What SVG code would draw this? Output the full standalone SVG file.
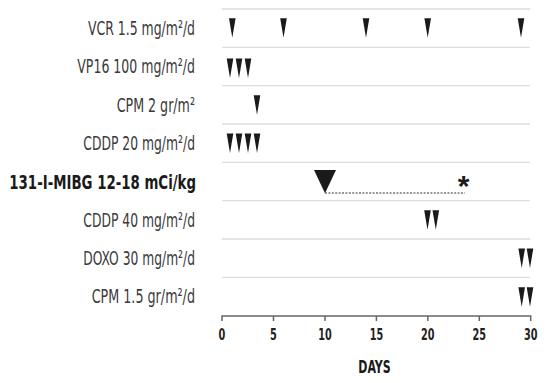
<svg xmlns="http://www.w3.org/2000/svg" width="550" height="383" viewBox="0 0 550 383">
<style>
.lbl{font-family:"Liberation Sans Narrow","DejaVu Sans Condensed","Liberation Sans",sans-serif;font-size:19.5px;fill:#3a3a3a;text-anchor:end}
.bold{font-family:"Liberation Sans Narrow","DejaVu Sans Condensed","Liberation Sans",sans-serif;font-size:19.5px;font-weight:bold;fill:#1a1a1a;text-anchor:end}
.tick{font-family:"Liberation Sans Narrow","DejaVu Sans Condensed","Liberation Sans",sans-serif;font-size:16.5px;font-weight:bold;fill:#222;text-anchor:middle}
.days{font-family:"Liberation Sans Narrow","DejaVu Sans Condensed","Liberation Sans",sans-serif;font-size:18px;font-weight:bold;fill:#1a1a1a;text-anchor:middle}
.ast{font-family:"Liberation Sans","DejaVu Sans",sans-serif;font-size:30px;font-weight:bold;fill:#1a1a1a;text-anchor:middle}
.grid{stroke:#dcdcdc;stroke-width:1.3;fill:none}
.axis{stroke:#666;stroke-width:1.5;fill:none}
.tri{fill:#1a1a1a}
</style>
<defs>
<path id="t" class="tri" d="M-3.3,0 L3.3,0 L0,19.5 Z"/>
</defs>
<rect width="550" height="383" fill="#fff"/>
<g id="grid">
<line class="grid" x1="222" y1="9" x2="530" y2="9"/>
<line class="grid" x1="222" y1="47.3" x2="530" y2="47.3"/>
<line class="grid" x1="222" y1="85.7" x2="530" y2="85.7"/>
<line class="grid" x1="222" y1="124" x2="530" y2="124"/>
<line class="grid" x1="222" y1="162.3" x2="530" y2="162.3"/>
<line class="grid" x1="222" y1="200.7" x2="530" y2="200.7"/>
<line class="grid" x1="222" y1="239" x2="530" y2="239"/>
<line class="grid" x1="222" y1="277.3" x2="530" y2="277.3"/>
</g>
<g id="row-vcr">
<text class="lbl" x="195" y="35" textLength="107" lengthAdjust="spacingAndGlyphs">VCR 1.5 mg/m²/d</text>
<use href="#t" x="232.3" y="18.3"/>
<use href="#t" x="283.5" y="18.3"/>
<use href="#t" x="366" y="18.3"/>
<use href="#t" x="427.7" y="18.3"/>
<use href="#t" x="521" y="18.3"/>
</g>
<g id="row-vp16">
<text class="lbl" x="195" y="73.3" textLength="117.7" lengthAdjust="spacingAndGlyphs">VP16 100 mg/m²/d</text>
<use href="#t" x="230" y="58.5"/>
<use href="#t" x="239" y="58.5"/>
<use href="#t" x="248" y="58.5"/>
</g>
<g id="row-cpm2">
<text class="lbl" x="195" y="111.7" textLength="78.3" lengthAdjust="spacingAndGlyphs">CPM 2 gr/m²</text>
<use href="#t" x="257" y="95.3"/>
</g>
<g id="row-cddp20">
<text class="lbl" x="195" y="150" textLength="111.7" lengthAdjust="spacingAndGlyphs">CDDP 20 mg/m²/d</text>
<use href="#t" x="230" y="133.5"/>
<use href="#t" x="239" y="133.5"/>
<use href="#t" x="248" y="133.5"/>
<use href="#t" x="257" y="133.5"/>
</g>
<g id="row-mibg">
<text class="bold" x="196" y="189" textLength="186.7" lengthAdjust="spacingAndGlyphs">131-I-MIBG 12-18 mCi/kg</text>
<polygon class="tri" points="314,170 336,170 325,193.3"/>
<line x1="325" y1="193" x2="465" y2="193" stroke="#333" stroke-width="1.1" stroke-dasharray="2,1.4"/>
<text class="ast" x="463.5" y="196">*</text>
</g>
<g id="row-cddp40">
<text class="lbl" x="195" y="226.7" textLength="111.7" lengthAdjust="spacingAndGlyphs">CDDP 40 mg/m²/d</text>
<use href="#t" x="427.5" y="210.3"/>
<use href="#t" x="435.8" y="210.3"/>
</g>
<g id="row-doxo">
<text class="lbl" x="195" y="265" textLength="111.7" lengthAdjust="spacingAndGlyphs">DOXO 30 mg/m²/d</text>
<use href="#t" x="521.7" y="248.5"/>
<use href="#t" x="530" y="248.5"/>
</g>
<g id="row-cpm15">
<text class="lbl" x="195" y="303.3" textLength="103.3" lengthAdjust="spacingAndGlyphs">CPM 1.5 gr/m²/d</text>
<use href="#t" x="521.7" y="287.3"/>
<use href="#t" x="530" y="287.3"/>
</g>
<g id="axis">
<path class="axis" d="M222,321 V316 H530.7 V321 M273.5,316 V321 M325,316 V321 M376.4,316 V321 M427.8,316 V321 M479.3,316 V321"/>
<text class="tick" x="222" y="340" textLength="6.8" lengthAdjust="spacingAndGlyphs">0</text>
<text class="tick" x="273.5" y="340" textLength="6.8" lengthAdjust="spacingAndGlyphs">5</text>
<text class="tick" x="325" y="340" textLength="13.5" lengthAdjust="spacingAndGlyphs">10</text>
<text class="tick" x="376.4" y="340" textLength="13.5" lengthAdjust="spacingAndGlyphs">15</text>
<text class="tick" x="427.8" y="340" textLength="13.5" lengthAdjust="spacingAndGlyphs">20</text>
<text class="tick" x="479.3" y="340" textLength="13.5" lengthAdjust="spacingAndGlyphs">25</text>
<text class="tick" x="530.7" y="340" textLength="13.5" lengthAdjust="spacingAndGlyphs">30</text>
<text class="days" x="374.5" y="373.3" textLength="32.4" lengthAdjust="spacingAndGlyphs">DAYS</text>
</g>
</svg>
